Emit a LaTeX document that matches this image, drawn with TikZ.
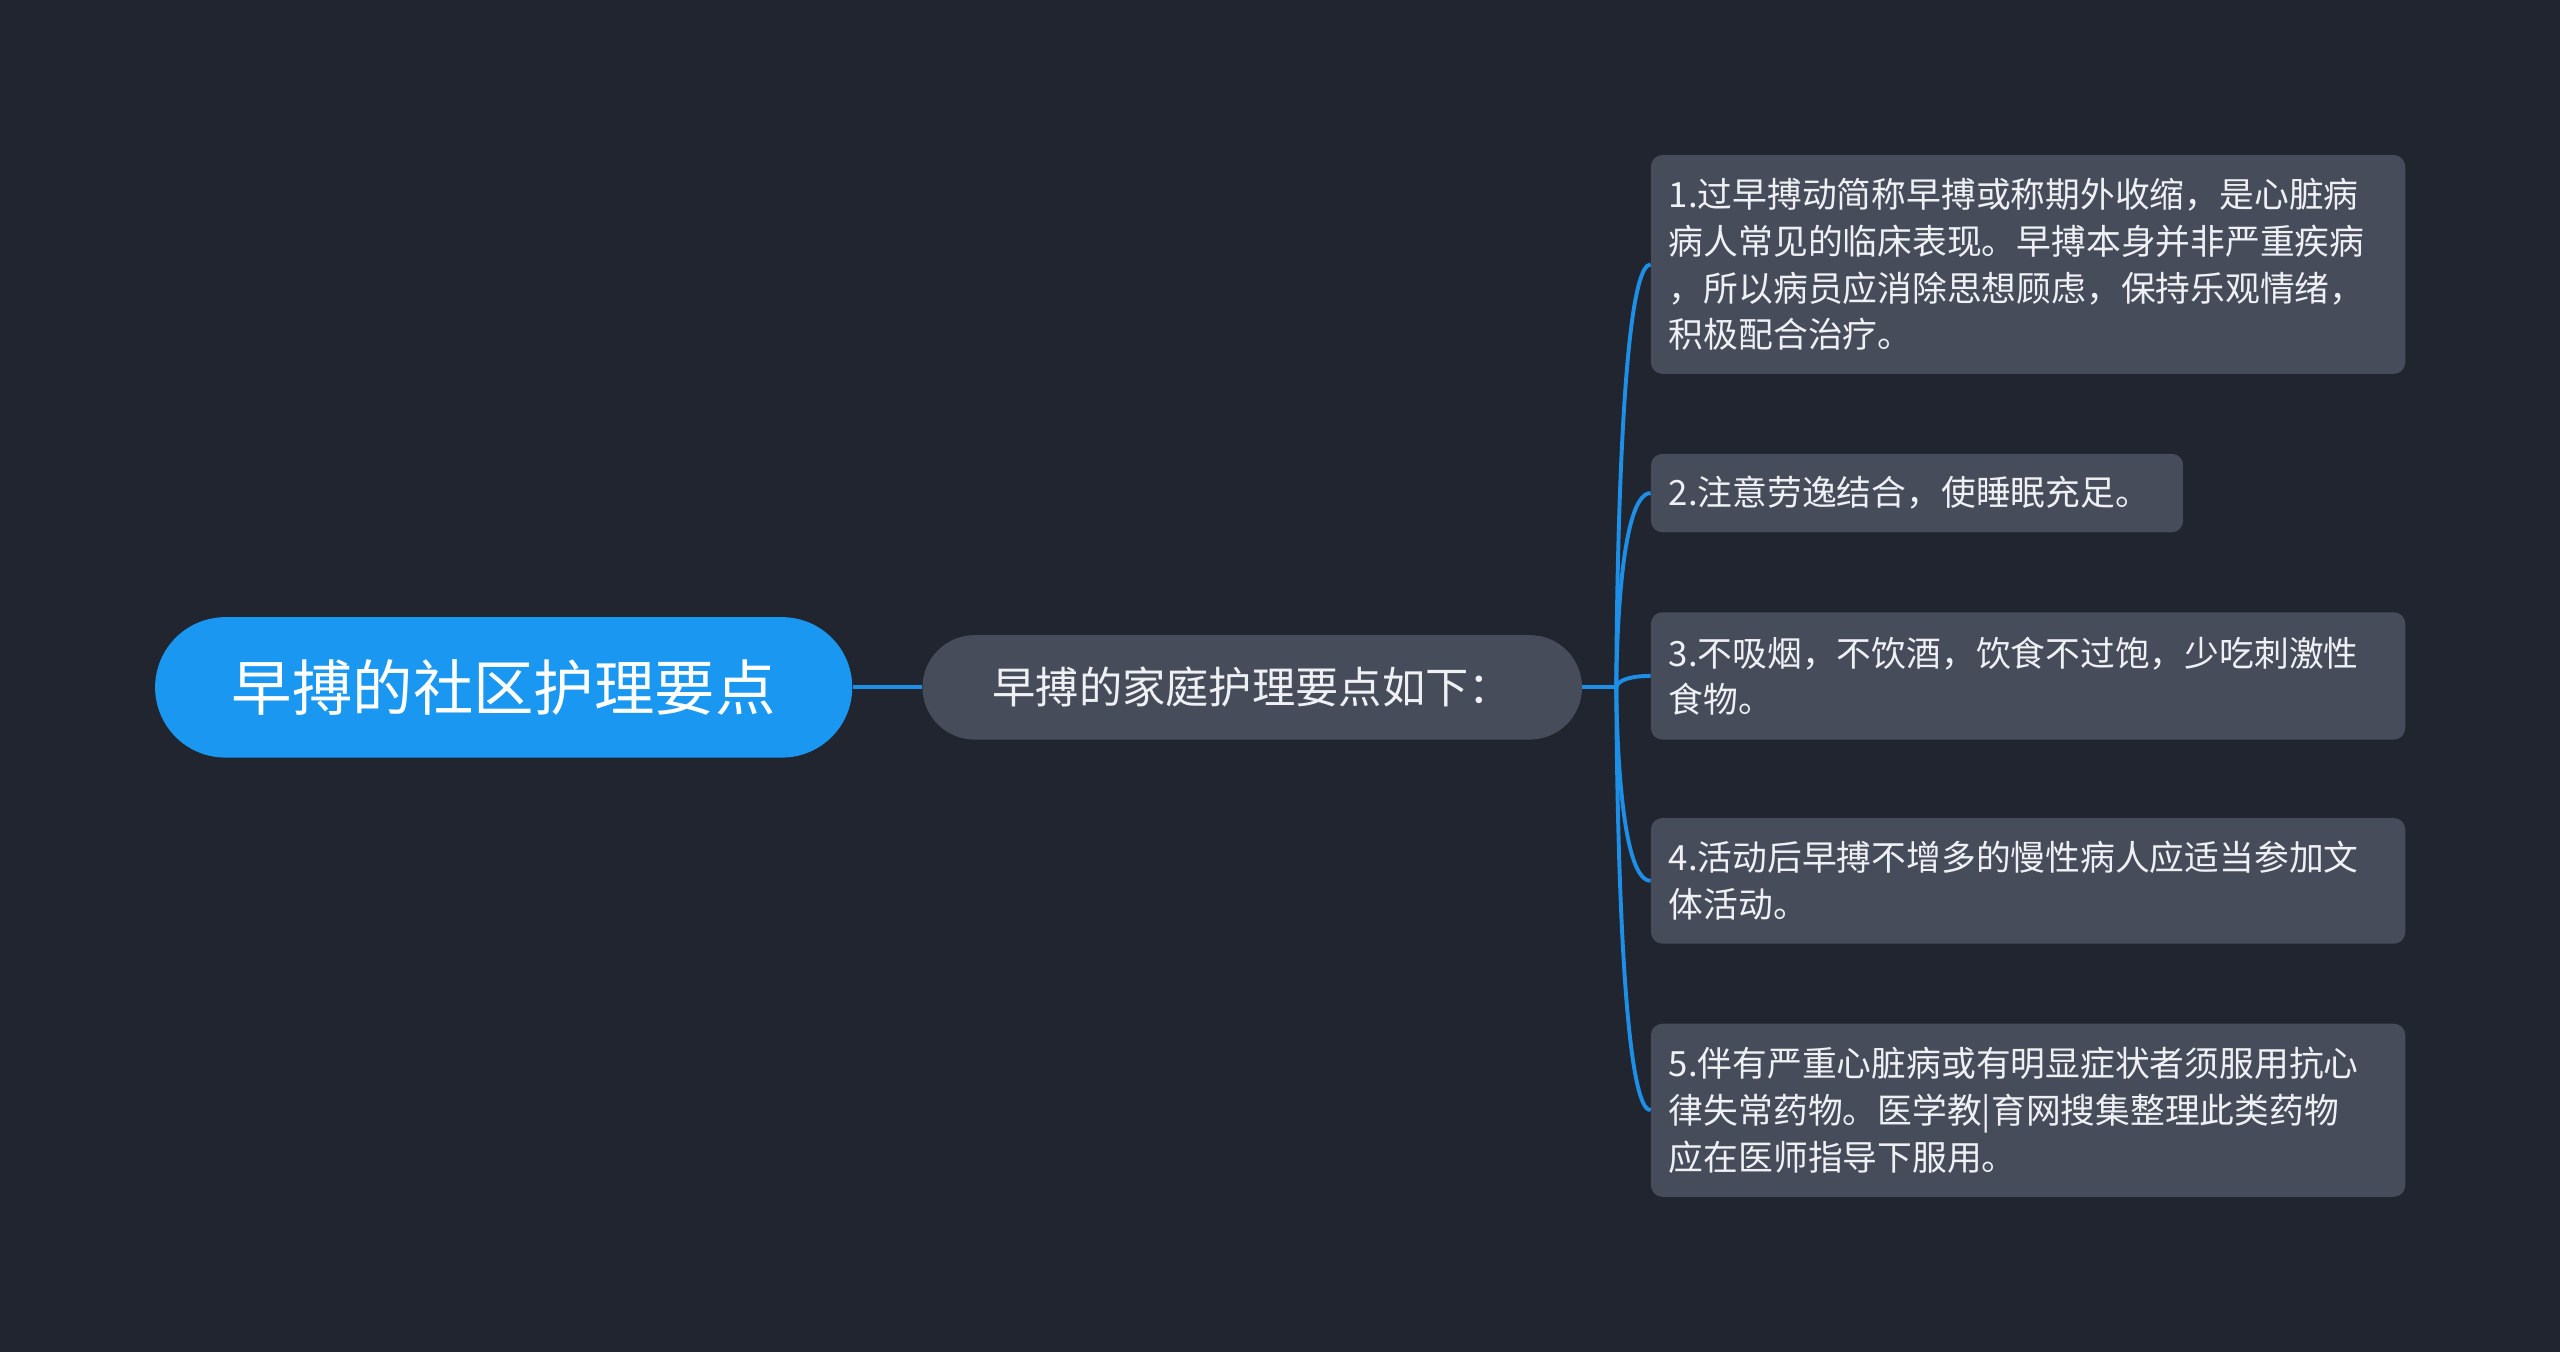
\documentclass[tikz,border=0pt]{standalone}
\usepackage{fontspec}
\setmainfont{Noto Sans CJK SC}
\definecolor{bg}{HTML}{21252F}
\definecolor{rootc}{HTML}{1A97F0}
\definecolor{boxc}{HTML}{464C5A}
\definecolor{linec}{HTML}{1E8FE6}
\definecolor{txt}{HTML}{EEF0F4}
\begin{document}
\begin{tikzpicture}[x=1pt,y=1pt,
  rootn/.style={fill=rootc,rounded corners=43pt,minimum width=427pt,minimum height=86pt,text=white,font=\fontsize{37}{42}\selectfont,inner sep=0pt},
  midn/.style={fill=boxc,rounded corners=32pt,minimum width=404pt,minimum height=64pt,text=txt,font=\fontsize{26.5}{30}\selectfont,inner sep=0pt},
  leaf/.style={fill=boxc,rounded corners=7pt,anchor=west,align=left,text=txt,font=\fontsize{21.3}{28.5}\selectfont,inner xsep=11pt,inner ysep=0pt},
  conn/.style={draw=linec,line width=2.4pt}]
\fill[bg] (0,0) rectangle (1568,-828);
\useasboundingbox (0,0) rectangle (1568,-828);
\node[rootn] (root) at (308.5,-421) {早搏的社区护理要点};
\node[midn] (mid) at (767,-421) {早搏的家庭护理要点如下：};
\node[leaf,minimum width=462pt,minimum height=134pt,text width=440pt] (l1) at (1011,-162) {1.过早搏动简称早搏或称期外收缩，是心脏病\\病人常见的临床表现。早搏本身并非严重疾病\\，所以病员应消除思想顾虑，保持乐观情绪，\\积极配合治疗。};
\node[leaf,minimum width=326pt,minimum height=48pt,text width=304pt] (l2) at (1011,-302) {2.注意劳逸结合，使睡眠充足。};
\node[leaf,minimum width=462pt,minimum height=78pt,text width=440pt] (l3) at (1011,-414) {3.不吸烟，不饮酒，饮食不过饱，少吃刺激性\\食物。};
\node[leaf,minimum width=462pt,minimum height=77pt,text width=440pt] (l4) at (1011,-539.5) {4.活动后早搏不增多的慢性病人应适当参加文\\体活动。};
\node[leaf,minimum width=462pt,minimum height=106pt,text width=440pt] (l5) at (1011,-680) {5.伴有严重心脏病或有明显症状者须服用抗心\\律失常药物。医学教|育网搜集整理此类药物\\应在医师指导下服用。};
\draw[conn] (root.east) -- (mid.west);
\coordinate (j) at (990,-421);
\draw[conn] (mid.east) -- (j);
\foreach \n in {l1,l2,l3,l4,l5}{
  \draw[conn] (j) .. controls (990,-421) and (990,0|-\n.west) .. (\n.west);
}
\end{tikzpicture}
\end{document}
